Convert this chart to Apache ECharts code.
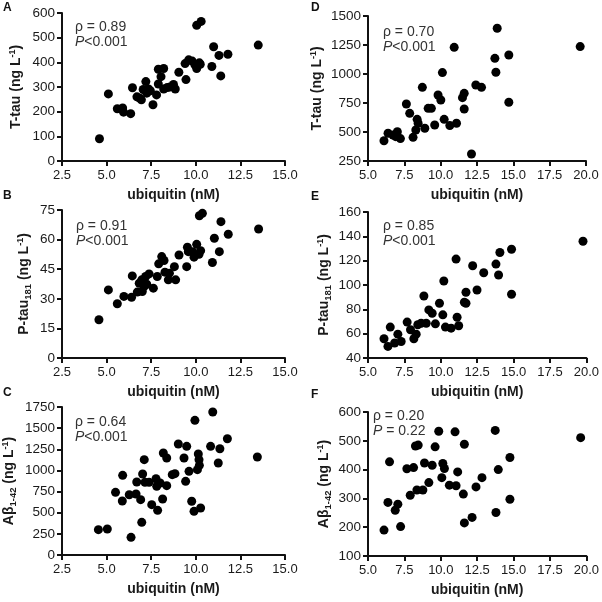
<!DOCTYPE html>
<html><head><meta charset="utf-8">
<script src="https://cdn.jsdelivr.net/npm/echarts@6/dist/echarts.min.js"></script>
<style>html,body{margin:0;padding:0;background:#fff}#c{width:602px;height:602px}</style>
</head><body><div id="c"></div>
<script>
// Panel A: T-tau vs ubiquitin (left column)
const dataA = [[4.6,90],[5.1,272],[5.6,212],[5.9,215],[5.95,198],[6.35,192],[6.45,297],[6.7,260],[6.85,255],[6.95,248],[7.05,290],[7.2,322],[7.25,275],[7.35,292],[7.45,285],[7.6,228],[7.8,268],[7.9,312],[7.9,372],[8.05,342],[8.2,375],[8.2,292],[8.4,298],[8.55,300],[8.75,310],[8.85,292],[9.05,360],[9.45,330],[9.4,395],[9.6,410],[9.8,405],[9.95,390],[10.05,375],[10.2,398],[10.05,550],[10.3,566],[10.25,392],[10.9,383],[11.0,463],[11.3,428],[11.4,345],[11.8,433],[13.5,470]];
// Panel B: P-tau181
const dataB = [[4.57,19.4],[5.1,34.5],[5.6,27.5],[5.97,31.2],[6.4,30.8],[6.44,41.6],[6.72,33.4],[6.83,37.9],[6.97,39.6],[7.0,33.7],[7.1,36.2],[7.19,41.3],[7.25,37.4],[7.38,42.6],[7.62,35.4],[7.84,41.3],[7.92,47.7],[8.09,51.4],[8.22,49.4],[8.27,43.5],[8.46,39.6],[8.52,43],[8.8,46.3],[8.87,39.6],[9.06,52.2],[9.49,46.3],[9.53,56.1],[9.58,53.9],[9.82,53.9],[9.9,51.1],[10.05,57.6],[10.18,52.6],[10.2,72.1],[10.37,73.3],[10.27,54.4],[10.93,48.4],[11.04,60.7],[11.32,53.9],[11.41,69.1],[11.82,62.7],[13.52,65.4]];
// Panel C: Abeta1-42
const dataC = [[4.54,300],[5.04,307],[5.5,741],[5.88,638],[5.9,942],[6.27,713],[6.37,209],[6.65,721],[6.69,863],[6.91,654],[6.97,386],[7.02,958],[7.11,1127],[7.15,859],[7.38,859],[7.53,595],[7.77,902],[7.81,812],[7.86,528],[8.0,851],[8.14,662],[8.18,1206],[8.37,1147],[8.37,820],[8.68,950],[8.83,962],[9.02,1312],[9.34,1147],[9.43,871],[9.49,1285],[9.62,989],[9.77,636],[9.9,516],[9.95,1592],[10.09,1009],[10.2,1060],[10.14,1194],[10.18,1127],[10.27,556],[10.83,1285],[10.95,1691],[11.26,1088],[11.35,1257],[11.77,1375],[13.45,1159]];
// Panel D: T-tau (right column)
const dataD = [[6.10,425],[6.38,489],[6.72,474],[7.02,503],[6.91,460],[7.23,443],[7.64,741],[7.87,661],[8.10,454],[8.29,517],[8.38,609],[8.45,575],[8.74,885],[8.91,532],[9.14,704],[9.36,704],[9.59,560],[9.82,819],[10.01,776],[10.12,1012],[10.24,609],[10.63,555],[10.93,1230],[11.09,575],[11.50,796],[11.62,833],[11.62,698],[12.12,310],[12.42,905],[12.81,885],[13.73,1135],[13.80,1015],[13.89,1394],[14.69,1164],[14.69,756],[19.6,1236]];
// Panel E: P-tau181
const dataE = [[6.10,55.8],[6.37,49.5],[6.53,65.4],[6.83,52.3],[7.05,59.6],[7.28,53.6],[7.69,69.5],[7.92,63.2],[8.15,55.8],[8.31,59.6],[8.42,67.3],[8.65,68.6],[8.84,91.0],[9.0,68.6],[9.18,79.5],[9.41,76.8],[9.63,68.1],[9.91,85],[10.14,75.5],[10.21,103.3],[10.32,65.4],[10.71,64.5],[11.05,121.3],[11.12,73.5],[11.23,66.5],[11.62,85.8],[11.73,85],[11.73,94],[12.19,115.8],[12.49,95.9],[12.95,110.1],[13.79,117.2],[13.97,108.2],[14.06,126.7],[14.86,129.4],[14.86,92.4],[19.77,136]];
// Panel F: Abeta1-42
const dataF = [[6.10,190],[6.37,286],[6.48,427],[6.87,259],[7.05,280],[7.24,202],[7.67,403],[7.90,311],[8.13,407],[8.26,482],[8.45,485],[8.36,329],[8.77,329],[8.88,423],[9.18,355],[9.41,415],[9.61,479],[9.86,533],[10.07,372],[10.14,421],[10.25,404],[10.59,346],[10.98,531],[11.05,344],[11.16,392],[11.55,315],[11.62,488],[11.62,215],[12.15,234],[12.42,340],[12.83,372],[13.74,536],[13.79,251],[13.95,400],[14.75,442],[14.75,297],[19.61,511]];

const panelLetters = ['A','B','C','D','E','F'];
const rhoLabels = ['ρ = 0.89','ρ = 0.91','ρ = 0.64','ρ = 0.70','ρ = 0.85','ρ = 0.20'];
const pLabels = ['<0.001','<0.001','<0.001','<0.001','<0.001',' = 0.22'];
const xTitle = 'ubiquitin (nM)';
const yTitles = [
  '{b|T-tau (ng L}{sup|-1}{b|)}',
  '{b|P-tau}{sub|181}{b| (ng L}{sup|-1}{b|)}',
  '{b|Aβ}{sub|1-42}{b| (ng L}{sup|-1}{b|)}',
  '{b|T-tau (ng L}{sup|-1}{b|)}',
  '{b|P-tau}{sub|181}{b| (ng L}{sup|-1}{b|)}',
  '{b|Aβ}{sub|1-42}{b| (ng L}{sup|-1}{b|)}'
];
const xRanges = [[2.5,15,2.5],[2.5,15,2.5],[2.5,15,2.5],[5,20,2.5],[5,20,2.5],[5,20,2.5]];
const yRanges = [[0,600,100],[0,75,15],[0,1750,250],[250,1500,250],[40,160,20],[100,600,100]];
const allData = [dataA,dataB,dataC,dataD,dataE,dataF];

// layout
const grids = [
  {left:62, top:13, width:223, height:148},
  {left:62, top:210, width:223, height:148},
  {left:62, top:407, width:223, height:148},
  {left:368, top:16, width:218, height:145},
  {left:368, top:212, width:219, height:146},
  {left:368, top:412, width:219, height:144}
];
const nameGaps = [37, 29, 44, 42, 35, 35];
const letterPos = [[7,8],[7,196],[7,393],[315,8],[315,197],[315,395]];
const annPos = [[75,20],[76,219],[75,415],[383,25],[383,219],[373,409]];

const FF = '"Liberation Sans", Arial, Helvetica, sans-serif';
const axisLine = {show:true, lineStyle:{color:'#111', width:2}};
const axisTick = {show:true, length:5, lineStyle:{color:'#111', width:2}};
const richY = {
  b:{fontFamily:FF, fontWeight:'bold', fontSize:14, color:'#1a1a1a', lineHeight:17},
  sup:{fontFamily:FF, fontWeight:'bold', fontSize:9, color:'#1a1a1a', lineHeight:9, verticalAlign:'top'},
  sub:{fontFamily:FF, fontWeight:'bold', fontSize:9.5, color:'#1a1a1a', lineHeight:10, verticalAlign:'bottom'}
};

const xAxis = [], yAxis = [], series = [], graphic = [];
for (let i=0;i<6;i++){
  xAxis.push({gridIndex:i, type:'value', min:xRanges[i][0], max:xRanges[i][1], interval:xRanges[i][2],
    name:xTitle, nameLocation:'middle', nameGap:27,
    nameTextStyle:{fontFamily:FF, fontWeight:'bold', fontSize:14, color:'#1a1a1a'},
    axisLine, axisTick, splitLine:{show:false},
    axisLabel:{fontFamily:FF, fontSize:13, color:'#1a1a1a', margin:8, formatter:v=>v.toFixed(1)}});
  yAxis.push({gridIndex:i, type:'value', min:yRanges[i][0], max:yRanges[i][1], interval:yRanges[i][2],
    name:yTitles[i], nameLocation:'middle', nameGap:nameGaps[i], nameRotate:90,
    nameTextStyle:{rich:richY},
    axisLine, axisTick, splitLine:{show:false},
    axisLabel:{fontFamily:FF, fontSize:13.5, color:'#1a1a1a', margin:7, formatter:v=>String(v)}});
  series.push({type:'scatter', xAxisIndex:i, yAxisIndex:i, data:allData[i], symbolSize:9,
    itemStyle:{color:'#000', opacity:1}, silent:true, clip:false});
  graphic.push({type:'text', left:letterPos[i][0]-4, top:letterPos[i][1]-6,
    style:{text:panelLetters[i], font:'bold 12px '+FF, fill:'#111'}});
  graphic.push({type:'text', left:annPos[i][0], top:annPos[i][1],
    style:{text:'{r|'+rhoLabels[i]+'}\n{i|P}{r|'+pLabels[i]+'}',
      rich:{r:{fontFamily:FF, fontSize:14, fill:'#333', lineHeight:15},
            i:{fontFamily:FF, fontSize:14, fontStyle:'italic', fill:'#333', lineHeight:15}}}});
}

const chart = echarts.init(document.getElementById('c'), null, {renderer:'canvas'});
chart.setOption({animation:false, backgroundColor:'#fff', grid:grids, xAxis, yAxis, series, graphic});
</script></body></html>
